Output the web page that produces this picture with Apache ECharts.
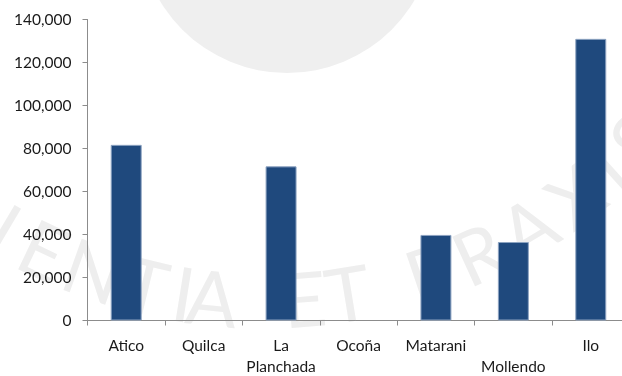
<!DOCTYPE html>
<html>
<head>
<meta charset="utf-8">
<script src="https://cdn.jsdelivr.net/npm/echarts@6/dist/echarts.min.js"></script>
<style>
  html, body { margin: 0; padding: 0; background: #ffffff; }
  #chart { width: 622px; height: 376px; }
</style>
</head>
<body>
<div id="chart"></div>
<script>
// Ports and tonnage handled
const ports = ['Atico', 'Quilca', 'La Planchada', 'Ocoña', 'Matarani', 'Mollendo', 'Ilo'];
const tonnes = [81700, 0, 71700, 0, 39800, 36500, 131000];
const yTicks = [0, 20000, 40000, 60000, 80000, 100000, 120000, 140000];

// Watermark ring lettering: character and angle (degrees) on the ring
const sealLetters = [
  ['S', -41], ['C', -36], ['I', -30.5], ['E', -25.5], ['N', -19.5], ['T', -13.5], ['I', -9.1], ['A', -5.9],
  ['E', 4.4], ['T', 9.3],
  ['P', 18.7], ['R', 24.6], ['A', 30.8], ['X', 37.2], ['I', 42], ['S', 46.5]
];

const FONT = 'Lato, "Open Sans", "Liberation Sans", sans-serif';
const WM = '#eeeeee';

// Seal: a pale disc and the motto along a wide arc, drawn beneath the bars
const ringCx = 265, ringCy = -213, ringR = 517;
const graphics = [{
  type: 'circle',
  z: -10,
  silent: true,
  shape: { cx: 287, cy: -75, r: 148 },
  style: { fill: '#efefef' }
}];
sealLetters.forEach(function (l) {
  const a = l[1] * Math.PI / 180;
  graphics.push({
    type: 'text',
    z: -10,
    silent: true,
    x: ringCx + ringR * Math.sin(a),
    y: ringCy + ringR * Math.cos(a),
    rotation: a,
    style: {
      text: l[0],
      fill: WM,
      font: 'normal 76px ' + FONT,
      align: 'center',
      verticalAlign: 'middle'
    }
  });
});

const labelText = {
  'La Planchada': 'La\nPlanchada',
  'Mollendo': '\nMollendo'
};

// Zero-height bars get no outline
const barData = tonnes.map(function (v) {
  return v > 0 ? v : { value: v, itemStyle: { borderWidth: 0 } };
});

const chart = echarts.init(document.getElementById('chart'), null, { renderer: 'canvas' });
chart.setOption({
  animation: false,
  backgroundColor: '#ffffff',
  graphic: { elements: graphics },
  grid: { left: 87.5, top: 19.5, height: 301, width: 542, containLabel: false, outerBoundsMode: 'none' },
  xAxis: {
    type: 'category',
    data: ports,
    boundaryGap: true,
    axisLine: { show: true, lineStyle: { color: '#8c8c8c', width: 1 } },
    axisTick: { show: true, interval: 0, length: 5, alignWithLabel: false, lineStyle: { color: '#8c8c8c' } },
    axisLabel: {
      interval: 0,
      margin: 15,
      color: '#1a1a1a',
      fontFamily: FONT,
      fontSize: 15.5,
      lineHeight: 21,
      formatter: function (v) { return labelText[v] || v; }
    },
    splitLine: { show: false }
  },
  yAxis: {
    type: 'value',
    min: yTicks[0],
    max: yTicks[yTicks.length - 1],
    interval: yTicks[1] - yTicks[0],
    axisLine: { show: true, lineStyle: { color: '#8c8c8c', width: 1 } },
    axisTick: { show: true, length: 5, lineStyle: { color: '#8c8c8c' } },
    axisLabel: {
      margin: 16,
      color: '#1a1a1a',
      fontFamily: FONT,
      fontSize: 15.5,
      formatter: function (v) { return v.toLocaleString('en-US'); }
    },
    splitLine: { show: false }
  },
  series: [{
    type: 'bar',
    data: barData,
    barWidth: '40%',
    itemStyle: { color: '#1f497d', borderColor: '#8da3c1', borderWidth: 1 }
  }]
});
</script>
</body>
</html>
